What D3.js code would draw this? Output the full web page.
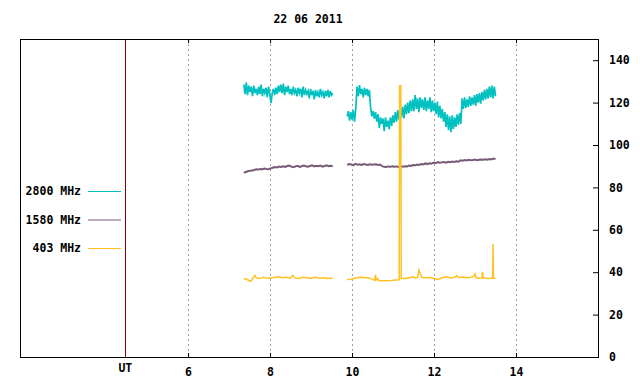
<!DOCTYPE html>
<html>
<head>
<meta charset="utf-8">
<script src="https://cdn.jsdelivr.net/npm/d3@7"></script>
<style>
  body { margin: 0; background: #fff; }
  text { font-family: "DejaVu Sans Mono", monospace; font-weight: bold; font-size: 11.5px; fill: #000; }
</style>
</head>
<body>
<svg id="chart" width="640" height="384"></svg>
<script>
const title = "22 06 2011";
const xTicks = [6, 8, 10, 12, 14];
const yTicks = [0, 20, 40, 60, 80, 100, 120, 140];
const utHour = 4.47;

// legend, top to bottom
const series = [
  { name: "2800 MHz", color: "#00c0c0" },
  { name: "1580 MHz", color: "#765a78" },
  { name: "403 MHz", color: "#ffc020" },
];

// 2800 MHz, two recording windows, evenly sampled
const cyanSeg1 = { start: 7.36, end: 9.53 };
const cyanVals1 = [
  128.5, 124.0, 129.5, 123.5, 128.0, 125.0, 127.5, 123.0, 128.0, 124.5,
  126.5, 123.5, 127.5, 124.0, 128.5, 123.0, 126.5, 124.5, 127.0, 122.5,
  127.5, 124.0, 119.8, 124.5, 126.5, 123.5, 127.0, 124.0, 128.0, 125.0,
  128.5, 124.5, 129.0, 123.5, 127.5, 125.0, 128.0, 124.0, 126.5, 123.5,
  127.5, 124.5, 126.0, 123.0, 127.0, 124.5, 126.5, 122.5, 127.5, 123.5,
  126.0, 124.0, 125.5, 122.0, 126.5, 123.5, 125.5, 121.5, 126.0, 123.0,
  125.0, 122.5, 126.5, 123.5, 125.0, 122.0, 125.5, 123.0, 126.0, 122.5,
  125.5, 123.5, 124.5,
];
const cyanSeg2 = { start: 9.88, end: 13.5 };
const cyanVals2 = [
  113.5, 116.0, 111.5, 115.5, 112.0, 116.5, 111.0, 117.0,
  127.5, 123.0, 128.3, 124.0, 126.5, 122.5, 127.0, 123.5, 126.5, 123.0, 126.0,
  117.5, 113.5, 116.0, 112.5, 115.5, 111.0, 114.5, 108.0, 113.0, 110.0, 112.5, 106.5, 113.0, 108.5,
  111.5, 107.5, 113.0, 109.0, 114.0, 110.5, 115.5, 111.0, 116.5, 112.0, 117.5,
  113.0, 118.0, 112.5, 119.0, 114.5, 120.0, 115.0, 121.0, 116.0, 121.5,
  116.0, 123.5, 117.0, 122.0, 115.5, 122.5, 117.5, 121.5, 116.5, 122.5, 116.0, 121.0, 117.0, 122.5, 115.5,
  121.0, 116.0, 120.0, 114.5, 120.5, 113.0, 118.5, 112.5, 117.0, 111.0,
  115.5, 108.5, 114.5, 107.0, 113.5, 106.0, 114.0, 107.5, 113.0, 108.5, 114.5, 109.5, 115.0, 110.0,
  122.0, 117.0, 122.5, 117.5, 121.5, 118.0, 123.0, 118.5, 122.5, 119.0, 123.5, 118.5, 124.0, 120.0,
  124.5, 119.5, 125.0, 121.0, 126.0, 121.5, 126.5, 122.0, 127.5, 122.5, 128.0, 122.0, 127.5, 123.0,
];

// 1580 MHz
const purpleSeg1 = { start: 7.36, end: 9.53 };
const purpleVals1 = [
  86.8, 87.3, 87.6, 87.9, 88.0, 88.2, 88.5, 88.4, 88.7, 88.6,
  88.9, 88.7, 88.6, 89.0, 89.3, 89.6, 89.4, 89.8, 89.6, 90.0,
  89.7, 90.1, 90.3, 89.8, 89.5, 89.9, 90.2, 89.7, 90.0, 90.3,
  90.0, 89.8, 90.1, 90.4, 89.9, 90.2, 90.0, 90.3, 89.8, 90.1,
  90.4, 90.0, 90.2, 89.9,
];
const purpleSeg2 = { start: 9.88, end: 13.5 };
const purpleVals2 = [
  90.6, 91.0, 90.8, 90.5, 91.1, 90.7, 90.9, 90.6, 91.0, 90.8, 90.6, 90.9, 90.7, 90.8, 90.9, 90.6, 90.8,
  90.0, 89.7, 89.6, 89.9, 89.7, 90.0, 89.8, 89.9, 89.6, 90.1, 89.8, 90.0, 89.9,
  90.3, 90.1, 90.5, 90.4, 90.8, 90.6, 91.0, 90.8, 91.3, 91.0, 91.4,
  91.2, 91.7, 91.4, 91.9, 91.6, 91.8, 92.0, 91.7, 92.1, 91.9, 92.2, 92.0, 92.3, 92.1,
  92.8, 92.6, 92.9, 92.7, 93.0, 92.8, 92.9, 93.1, 92.8, 93.0, 93.2, 93.0, 93.3, 93.1, 93.4, 93.2, 93.6, 93.4,
];

// 403 MHz, [hour, value]
const yellowPts1 = [
  [7.36, 36.9], [7.42, 36.8], [7.47, 36.2], [7.52, 35.7], [7.56, 36.4], [7.6, 37.8], [7.63, 38.4],
  [7.66, 37.4], [7.7, 37.0], [7.78, 37.2], [7.85, 37.6], [7.92, 37.1], [8.0, 37.3], [8.1, 37.5],
  [8.2, 37.8], [8.3, 37.4], [8.4, 37.6], [8.5, 37.2], [8.55, 38.5], [8.6, 37.3], [8.7, 37.0],
  [8.8, 37.6], [8.9, 37.4], [9.0, 37.2], [9.1, 37.6], [9.2, 37.1], [9.3, 37.4], [9.4, 37.0], [9.53, 37.2],
];
const yellowPts2 = [
  [9.88, 36.6], [10.0, 36.7], [10.1, 37.4], [10.2, 37.6], [10.3, 37.5], [10.42, 37.3], [10.5, 36.5],
  [10.55, 36.2], [10.57, 38.8], [10.59, 36.3], [10.62, 37.0], [10.65, 36.1], [10.8, 36.0], [10.95, 36.1],
  [11.05, 36.3], [11.15, 36.4], [11.16, 128.0], [11.19, 128.0], [11.2, 37.0], [11.3, 37.0], [11.4, 37.4],
  [11.5, 37.8], [11.55, 37.2], [11.6, 37.5], [11.63, 41.0], [11.66, 39.5], [11.7, 37.6], [11.8, 37.4],
  [11.9, 37.5], [12.0, 37.0], [12.1, 36.6], [12.2, 37.4], [12.3, 37.8], [12.4, 37.3], [12.5, 37.6],
  [12.55, 38.3], [12.6, 37.5], [12.7, 37.7], [12.8, 37.4], [12.9, 37.6], [12.97, 38.0], [13.0, 39.2],
  [13.03, 37.4], [13.1, 37.2], [13.17, 37.3], [13.18, 40.2], [13.2, 37.4], [13.3, 37.0], [13.4, 37.1],
  [13.43, 37.2], [13.44, 53.3], [13.45, 37.2], [13.5, 37.0],
];

const mLeft = 20, mRight = 598, mTop = 39, mBottom = 357;
const svg = d3.select("#chart");
const x = d3.scaleLinear().domain([1.9, 16]).range([mLeft, mRight]);
const y = d3.scaleLinear().domain([0, 150]).range([mBottom, mTop]);

const spread = (seg, vals) =>
  vals.map((v, i) => [seg.start + (i * (seg.end - seg.start)) / (vals.length - 1), v]);

// grid
svg.append("g")
  .selectAll("line")
  .data(xTicks)
  .join("line")
  .attr("x1", (d) => Math.round(x(d)) + 0.5)
  .attr("x2", (d) => Math.round(x(d)) + 0.5)
  .attr("y1", mTop)
  .attr("y2", mBottom)
  .attr("stroke", "#a0a0a0")
  .attr("stroke-dasharray", "2,3");

// x ticks (inward, mirrored)
const xAxis = svg.append("g").attr("transform", `translate(0,${mBottom})`)
  .call(d3.axisBottom(x).tickValues(xTicks).tickSize(-4).tickPadding(11).tickFormat(d3.format("d")));
xAxis.select(".domain").remove();
xAxis.selectAll("text").attr("dy", "0.71em").attr("font-family", null).attr("font-size", null);
svg.append("g").attr("transform", `translate(0,${mTop})`)
  .call(d3.axisTop(x).tickValues(xTicks).tickSize(-4).tickFormat(""))
  .select(".domain").remove();

// right y axis
const yAxis = svg.append("g").attr("transform", `translate(${mRight},0)`)
  .call(d3.axisRight(y).tickValues(yTicks).tickSize(-5).tickPadding(11));
yAxis.select(".domain").remove();
yAxis.selectAll("text").attr("font-family", null).attr("font-size", null);

// UT divider
svg.append("line")
  .attr("x1", Math.round(x(utHour)) + 0.5).attr("x2", Math.round(x(utHour)) + 0.5)
  .attr("y1", mTop).attr("y2", mBottom)
  .attr("stroke", "#8b0000");
svg.append("text")
  .attr("x", x(utHour)).attr("y", mBottom + 15)
  .attr("text-anchor", "middle")
  .text("UT");

// frame
svg.append("rect")
  .attr("x", mLeft + 0.5).attr("y", mTop + 0.5)
  .attr("width", mRight - mLeft).attr("height", mBottom - mTop)
  .attr("fill", "none").attr("stroke", "#000");

// series
const line = d3.line().x((d) => x(d[0])).y((d) => y(d[1]));
const traces = [
  { color: series[0].color, segs: [spread(cyanSeg1, cyanVals1), spread(cyanSeg2, cyanVals2)], w: 1.7 },
  { color: series[1].color, segs: [spread(purpleSeg1, purpleVals1), spread(purpleSeg2, purpleVals2)], w: 2 },
  { color: series[2].color, segs: [yellowPts1, yellowPts2], w: 1.5 },
];
traces.forEach((t) => {
  svg.append("g")
    .selectAll("path")
    .data(t.segs)
    .join("path")
    .attr("d", line)
    .attr("fill", "none")
    .attr("stroke", t.color)
    .attr("stroke-width", t.w);
});

// legend
const leg = svg.append("g")
  .selectAll("g")
  .data(series)
  .join("g")
  .attr("transform", (d, i) => `translate(0,${191 + i * 28.5})`);
leg.append("text")
  .attr("x", 81).attr("dy", "0.35em")
  .attr("text-anchor", "end")
  .text((d) => d.name);
leg.append("line")
  .attr("x1", 88).attr("x2", 121)
  .attr("y1", 0.5).attr("y2", 0.5)
  .attr("stroke", (d) => d.color);

// title
svg.append("text")
  .attr("x", 308).attr("y", 19).attr("dy", "0.35em")
  .attr("text-anchor", "middle")
  .text(title);
</script>
</body>
</html>
